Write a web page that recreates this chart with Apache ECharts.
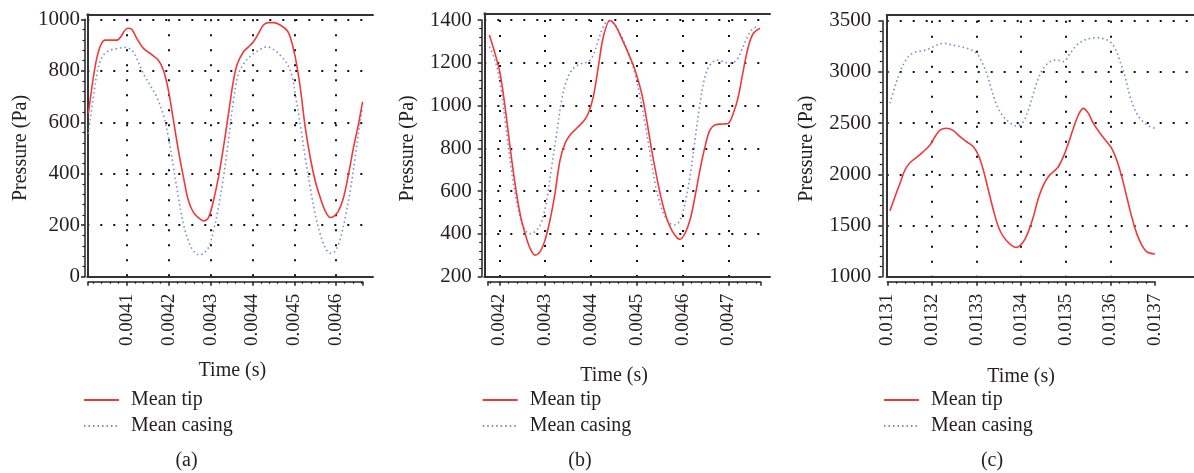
<!DOCTYPE html>
<html><head><meta charset="utf-8">
<script src="https://cdn.jsdelivr.net/npm/echarts@6/dist/echarts.min.js"></script>
<style>html,body{margin:0;padding:0;background:#fff}#c{width:1194px;height:473px}</style>
</head><body><div id="c"></div>
<script>
// ---------- data ----------
const seriesNames = ['Mean tip', 'Mean casing'];
const panelLabels = ['(a)', '(b)', '(c)'];
const xAxisTitle = 'Time (s)';
const yAxisTitle = 'Pressure (Pa)';

const tipTimeA = [0.0040084,0.0040244,0.0040363,0.0040482,0.0040761,0.0041024,0.0041119,0.0041239,0.0041398,0.0041597,0.0041756,0.0041876,0.0041995,0.0042115,0.0042234,0.0042354,0.0042473,0.0042592,0.0042752,0.0042847,0.0042951,0.004307,0.0043189,0.0043309,0.0043428,0.0043548,0.0043643,0.0043787,0.0043906,0.0044025,0.0044145,0.0044264,0.0044384,0.0044503,0.0044662,0.0044822,0.0044901,0.0045021,0.004514,0.004526,0.0045379,0.0045498,0.0045618,0.0045737,0.0045857,0.0045936,0.0046056,0.0046175,0.0046295,0.0046414,0.0046533,0.0046629];
const tipA = [633,815,893,919,919,965,961,926,887,863,841,802,724,607,490,386,295,250,224,217,230,295,386,503,633,763,828,874,893,913,945,978,987,987,978,958,932,854,737,581,464,373,308,256,230,233,256,308,399,503,594,679];
const casingTimeA = [0.0040084,0.0040204,0.0040323,0.0040443,0.0040602,0.0040801,0.004096,0.0041119,0.0041239,0.0041398,0.0041557,0.0041717,0.0041876,0.0041995,0.0042115,0.0042234,0.0042354,0.0042473,0.0042592,0.0042712,0.0042831,0.0042951,0.004307,0.0043189,0.0043309,0.0043428,0.0043548,0.0043667,0.0043826,0.0043986,0.0044185,0.0044344,0.0044503,0.0044662,0.0044822,0.0044941,0.0045021,0.004514,0.004526,0.0045379,0.0045498,0.0045618,0.0045737,0.0045857,0.0045976,0.0046096,0.0046215,0.0046334,0.0046454,0.0046573,0.0046629];
const casingA = [555,698,815,861,880,887,891,880,848,789,744,698,627,542,425,308,204,139,100,85,90,113,178,269,386,529,685,789,835,861,883,893,883,861,828,783,711,594,464,347,243,165,113,91,100,146,230,334,464,607,659];

const tipTimeB = [0.0041782,0.0041905,0.0042015,0.0042124,0.0042233,0.0042342,0.0042451,0.004256,0.004267,0.0042779,0.0042888,0.0042997,0.0043106,0.0043215,0.0043325,0.0043434,0.0043543,0.0043689,0.0043834,0.0043943,0.0044052,0.0044162,0.0044271,0.0044416,0.0044525,0.0044671,0.0044817,0.0044962,0.0045108,0.0045217,0.0045326,0.0045435,0.0045544,0.0045654,0.0045763,0.0045872,0.0045945,0.0046054,0.0046163,0.0046272,0.0046381,0.0046491,0.00466,0.0046709,0.0046891,0.0047,0.0047109,0.0047218,0.0047328,0.0047437,0.0047546,0.0047691];
const tipB = [1330,1244,1151,995,808,636,496,403,333,301,317,371,465,590,745,823,862,894,925,964,1042,1182,1322,1398,1377,1314,1244,1166,1057,932,792,668,558,473,418,384,375,403,465,574,699,808,886,909,914,917,964,1042,1166,1275,1338,1361];
const casingTimeB = [0.0041782,0.0041905,0.0042015,0.0042124,0.0042233,0.0042342,0.0042451,0.004256,0.004267,0.0042815,0.0042924,0.0043033,0.0043143,0.0043252,0.0043361,0.004347,0.0043616,0.0043798,0.0043943,0.0044052,0.0044162,0.0044271,0.004438,0.0044525,0.0044671,0.0044817,0.0044962,0.0045071,0.004518,0.004529,0.0045399,0.0045508,0.0045617,0.0045726,0.0045836,0.0045945,0.0046054,0.0046163,0.0046272,0.0046381,0.0046491,0.00466,0.0046745,0.0046891,0.0047036,0.0047182,0.0047291,0.00474,0.0047509,0.0047619];
const casingB = [1275,1213,1104,932,745,590,481,418,400,418,457,558,714,870,1026,1119,1174,1197,1205,1236,1306,1369,1397,1377,1322,1244,1151,1042,917,777,636,543,481,449,442,465,543,668,839,1010,1135,1190,1213,1205,1197,1213,1260,1314,1353,1369];

const tipTimeC = [0.013106,0.0131172,0.0131284,0.0131396,0.0131508,0.0131658,0.0131807,0.0131957,0.0132069,0.0132181,0.013233,0.013248,0.0132629,0.0132779,0.0132928,0.013304,0.0133152,0.0133265,0.0133377,0.0133489,0.0133601,0.013375,0.01339,0.0134049,0.0134161,0.0134274,0.0134386,0.0134498,0.013461,0.0134722,0.0134834,0.0134946,0.0135058,0.013517,0.0135283,0.0135395,0.0135507,0.0135619,0.0135768,0.0135918,0.013603,0.0136142,0.0136254,0.0136366,0.0136478,0.013659,0.0136703,0.0136815,0.0137];
const tipC = [1645,1781,1911,2042,2113,2165,2221,2286,2367,2432,2449,2426,2367,2318,2270,2188,2042,1846,1651,1488,1391,1319,1286,1342,1439,1586,1765,1895,1977,2025,2074,2172,2302,2449,2579,2644,2595,2497,2400,2318,2253,2139,1977,1781,1586,1423,1309,1244,1221];
const casingTimeC = [0.013106,0.0131172,0.0131284,0.0131396,0.0131508,0.0131658,0.0131807,0.0131957,0.0132106,0.0132256,0.0132405,0.0132555,0.0132704,0.0132853,0.0133003,0.0133115,0.0133227,0.0133339,0.0133451,0.0133601,0.013375,0.01339,0.0134049,0.0134161,0.0134274,0.0134386,0.0134498,0.0134647,0.0134797,0.0134946,0.0135096,0.0135245,0.0135395,0.0135544,0.0135694,0.0135843,0.0135993,0.0136105,0.0136217,0.0136329,0.0136441,0.0136553,0.0136665,0.0136777,0.0136889,0.0137];
const casingC = [2693,2855,3002,3100,3165,3197,3207,3230,3262,3279,3269,3253,3240,3220,3181,3100,2986,2823,2676,2563,2504,2471,2514,2628,2790,2937,3034,3100,3116,3100,3181,3262,3305,3327,3334,3324,3295,3230,3100,2953,2758,2628,2546,2497,2465,2449];

// axis ranges (x: visible time span of each axis; y: labelled range, step)
const xRanges = [[0.004008, 0.004663], [0.004175, 0.00477], [0.0131, 0.0137]];
const yRanges = [[0, 1000, 200], [200, 1400, 200], [1000, 3500, 500]];
const yBoxMax = [1019.4, 1431.3, 3555.7];

// ---------- layout ----------
const FONT = 'Liberation Serif';
const TXT = '#231f20';
const boxGrids = [
  {left: 87.3, top: 14.3, width: 285.7, height: 262.4},
  {left: 484.3, top: 13.3, width: 285.7, height: 263.4},
  {left: 886.7, top: 15, width: 330, height: 261.7}
];
const dataGrids = [
  {left: 88.2, top: 19.3, width: 274.4, height: 257.4},
  {left: 487.9, top: 20, width: 272.5, height: 256.7},
  {left: 887.3, top: 20.7, width: 267.7, height: 256}
];
const yOffsets = [3.2, 6.2, 5];
const yLabelMargins = [5, 10, 11];
const yNameGaps = [54, 64, 66];
const xNameGaps = [79, 84, 85];
const xNamePad = [[0,0,0,14],[0,20,0,0],[0,0,0,0]];
const xEndLabels = [false, false, true];
const legendLeft = [83, 481.7, 883];
const captionX = [186.5, 580, 992];

const grid = [], xAxis = [], yAxis = [], series = [], legend = [], graphic = [];
const dotted = (w, gap) => ({color: '#111', width: w, type: [w, gap]});
const boxLine = {lineStyle: {color: '#333', width: 2}, onZero: false};

for (let i = 0; i < 3; i++) grid.push(Object.assign({containLabel: false}, dataGrids[i]));
for (let i = 0; i < 3; i++) grid.push(Object.assign({containLabel: false}, boxGrids[i]));

for (let i = 0; i < 3; i++) {
  xAxis.push({
    type: 'value', gridIndex: i, position: 'bottom', offset: 5,
    min: xRanges[i][0], max: xRanges[i][1],
    name: xAxisTitle, nameLocation: 'middle', nameGap: xNameGaps[i],
    nameTextStyle: {fontFamily: FONT, fontSize: 20, color: TXT, padding: xNamePad[i]},
    axisLine: {show: true, onZero: false, lineStyle: {color: '#222', width: 1.5}},
    axisTick: {show: true, length: 4, lineStyle: {color: '#222', width: 1.5}},
    minorTick: {show: true, splitNumber: 5, length: 2, lineStyle: {color: '#222', width: 1.2}},
    axisLabel: {rotate: 90, margin: 12, fontFamily: FONT, fontSize: 19, color: TXT,
                showMinLabel: xEndLabels[i], showMaxLabel: xEndLabels[i]},
    splitLine: {show: true, showMinLine: false, showMaxLine: false, lineStyle: dotted(2, 13)}
  });
}
for (let i = 0; i < 3; i++) {
  xAxis.push({type: 'value', gridIndex: 3 + i, position: 'bottom', min: 0, max: 1,
    axisLine: boxLine, axisTick: {show: false}, axisLabel: {show: false}, splitLine: {show: false}});
  xAxis.push({type: 'value', gridIndex: 3 + i, position: 'top', min: 0, max: 1,
    axisLine: boxLine, axisTick: {show: false}, axisLabel: {show: false}, splitLine: {show: false}});
}
for (let i = 0; i < 3; i++) {
  yAxis.push({
    type: 'value', gridIndex: i, position: 'left', offset: yOffsets[i],
    min: yRanges[i][0], max: yRanges[i][1], interval: yRanges[i][2],
    name: yAxisTitle, nameLocation: 'middle', nameGap: yNameGaps[i],
    nameTextStyle: {fontFamily: FONT, fontSize: 20, color: TXT},
    axisLine: {show: true, onZero: false, lineStyle: {color: '#222', width: 1.5}},
    axisTick: {show: true, length: 4, lineStyle: {color: '#222', width: 1.5}},
    minorTick: {show: true, splitNumber: 5, length: 2.5, lineStyle: {color: '#222', width: 1.2}},
    axisLabel: {margin: yLabelMargins[i], fontFamily: FONT, fontSize: 21, color: TXT, formatter: v => String(v)},
    splitLine: {show: false}
  });
}
for (let i = 0; i < 3; i++) {
  yAxis.push({
    type: 'value', gridIndex: 3 + i, position: 'left',
    min: yRanges[i][0], max: yBoxMax[i], interval: yRanges[i][2],
    axisLine: boxLine, axisTick: {show: false}, axisLabel: {show: false},
    splitLine: {show: true, showMinLine: false, showMaxLine: false, lineStyle: dotted(2, 11)}
  });
}

const panels = [
  [tipTimeA, tipA, casingTimeA, casingA],
  [tipTimeB, tipB, casingTimeB, casingB],
  [tipTimeC, tipC, casingTimeC, casingC]
];
const zip = (t, v) => t.map((x, k) => [x, v[k]]);
panels.forEach((p, i) => {
  series.push({
    name: seriesNames[0], type: 'line', xAxisIndex: i, yAxisIndex: i,
    data: zip(p[0], p[1]), symbol: 'none', smooth: 0.35, z: 4,
    lineStyle: {color: '#ee3a3a', width: 1.6}, itemStyle: {color: '#ee3a3a'}
  });
  series.push({
    name: seriesNames[1], type: 'line', xAxisIndex: i, yAxisIndex: i,
    data: zip(p[2], p[3]), symbol: 'none', smooth: 0.35, z: 3,
    lineStyle: {color: '#7f8acb', width: 1.6, type: [1.5, 3]}, itemStyle: {color: '#7f8acb'}
  });
  legend.push({
    data: seriesNames, orient: 'vertical', left: legendLeft[i], top: 389, padding: 0,
    itemWidth: 35, itemHeight: 10, itemGap: 4, selectedMode: false,
    itemStyle: {opacity: 0},
    textStyle: {fontFamily: FONT, fontSize: 20, color: TXT, lineHeight: 22, padding: [0, 0, 0, 7]}
  });
  graphic.push({
    type: 'text', x: captionX[i], y: 461,
    style: {text: panelLabels[i], font: '20px "Liberation Serif"', fill: TXT,
            textAlign: 'center', textVerticalAlign: 'middle'}
  });
});

const chart = echarts.init(document.getElementById('c'), null, {renderer: 'canvas'});
chart.setOption({animation: false, backgroundColor: '#fff', grid, xAxis, yAxis, series, legend, graphic});
</script>
</body></html>
